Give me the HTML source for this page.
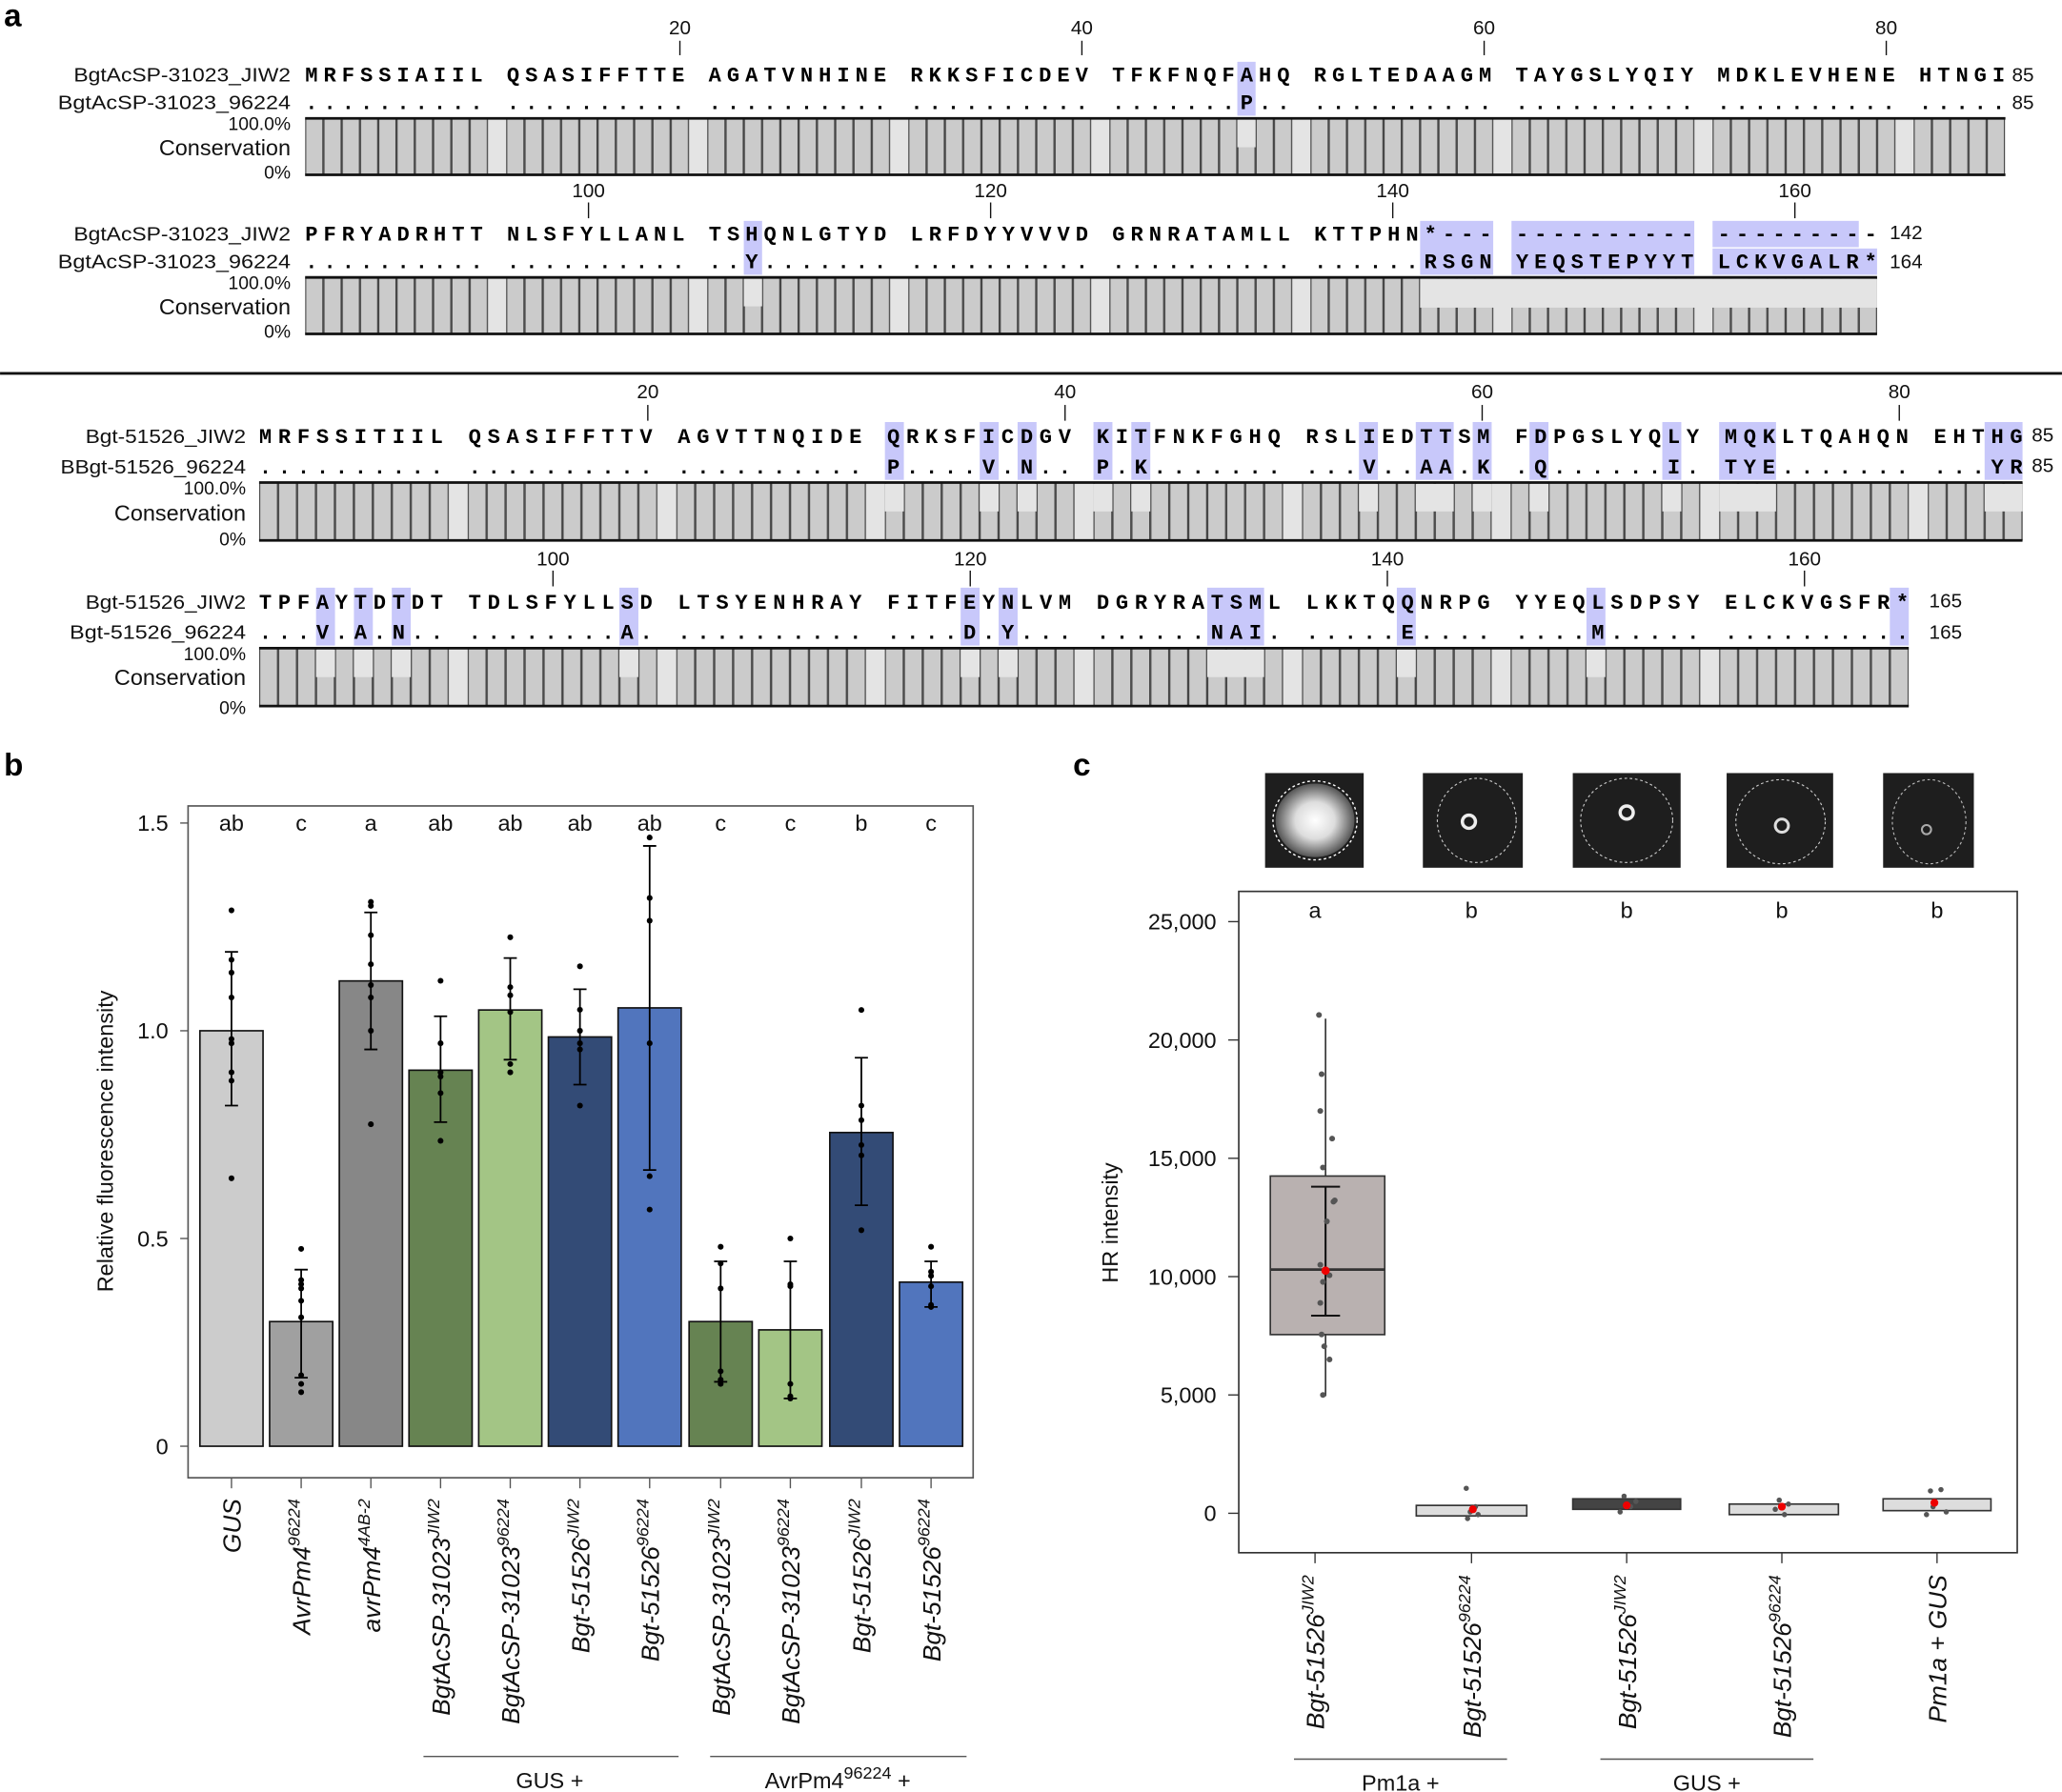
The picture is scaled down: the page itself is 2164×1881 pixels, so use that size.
<!DOCTYPE html>
<html><head><meta charset="utf-8"><style>
html,body{margin:0;padding:0;background:#fff}
svg{display:block}
.seq{font-family:"Liberation Mono",monospace;font-weight:bold;font-size:16px;fill:#000}
.lab{font-family:"Liberation Sans",sans-serif;font-size:15px;fill:#111}
.ax{font-family:"Liberation Sans",sans-serif;font-size:17px;fill:#111}
.it{font-family:"Liberation Sans",sans-serif;font-style:italic;font-size:19px;fill:#111}
.pl{font-family:"Liberation Sans",sans-serif;font-weight:bold;font-size:24px;fill:#000}
</style></head><body>
<svg xmlns="http://www.w3.org/2000/svg" width="2164" height="1881" viewBox="0 0 1568 1363">
<defs>
<pattern id="pA" patternUnits="userSpaceOnUse" x="232" y="0" width="152.9" height="1363">
<rect width="152.9" height="1363" fill="#e4e4e4"/>
<g fill="#cbcbcb" stroke="#444" stroke-width="0.9">
<rect x="0.4" y="-5" width="13.1" height="1400"/><rect x="14.3" y="-5" width="13.1" height="1400"/><rect x="28.2" y="-5" width="13.1" height="1400"/><rect x="42.1" y="-5" width="13.1" height="1400"/><rect x="56" y="-5" width="13.1" height="1400"/><rect x="69.9" y="-5" width="13.1" height="1400"/><rect x="83.8" y="-5" width="13.1" height="1400"/><rect x="97.7" y="-5" width="13.1" height="1400"/><rect x="111.6" y="-5" width="13.1" height="1400"/><rect x="125.5" y="-5" width="13.1" height="1400"/>
</g></pattern>
<pattern id="pB" patternUnits="userSpaceOnUse" x="197" y="0" width="158.62" height="1363">
<rect width="158.62" height="1363" fill="#e4e4e4"/>
<g fill="#cbcbcb" stroke="#444" stroke-width="0.9">
<rect x="0.4" y="-5" width="13.6" height="1400"/><rect x="14.82" y="-5" width="13.6" height="1400"/><rect x="29.24" y="-5" width="13.6" height="1400"/><rect x="43.66" y="-5" width="13.6" height="1400"/><rect x="58.08" y="-5" width="13.6" height="1400"/><rect x="72.5" y="-5" width="13.6" height="1400"/><rect x="86.92" y="-5" width="13.6" height="1400"/><rect x="101.34" y="-5" width="13.6" height="1400"/><rect x="115.76" y="-5" width="13.6" height="1400"/><rect x="130.18" y="-5" width="13.6" height="1400"/>
</g></pattern>
<radialGradient id="blob" cx="0.5" cy="0.5" r="0.5"><stop offset="0" stop-color="#fff"/><stop offset="0.5" stop-color="#ddd"/><stop offset="1" stop-color="#555"/></radialGradient>
</defs>

<text class="pl" x="3" y="20">a</text>
<text class="pl" x="3" y="590">b</text>
<text class="pl" x="816" y="590">c</text>

<!-- ===== Alignment 1 ===== -->
<g class="lab" text-anchor="middle">
<text x="517" y="26">20</text><text x="822.7" y="26">40</text><text x="1128.6" y="26">60</text><text x="1434.4" y="26">80</text>
<text x="447.5" y="150">100</text><text x="753.3" y="150">120</text><text x="1059.1" y="150">140</text><text x="1364.9" y="150">160</text>
</g>
<g stroke="#111" stroke-width="1">
<line x1="517" y1="31" x2="517" y2="42"/><line x1="822.7" y1="31" x2="822.7" y2="42"/><line x1="1128.6" y1="31" x2="1128.6" y2="42"/><line x1="1434.4" y1="31" x2="1434.4" y2="42"/>
<line x1="447.5" y1="154" x2="447.5" y2="166"/><line x1="753.3" y1="154" x2="753.3" y2="166"/><line x1="1059.1" y1="154" x2="1059.1" y2="166"/><line x1="1364.9" y1="154" x2="1364.9" y2="166"/>
</g>
<g fill="#c8c8fa">
<rect x="940.9" y="47" width="13.9" height="41"/>
<rect x="565.6" y="168" width="13.9" height="41"/>
<rect x="1079.9" y="168" width="55.6" height="41"/>
<rect x="1149.4" y="168" width="139" height="41"/>
<rect x="1302.3" y="168" width="111.2" height="20"/>
<rect x="1302.3" y="189" width="125.1" height="20"/>
</g>
<g class="lab" text-anchor="end">
<text x="221" y="62" textLength="165" lengthAdjust="spacingAndGlyphs">BgtAcSP-31023_JIW2</text>
<text x="221" y="83" textLength="177" lengthAdjust="spacingAndGlyphs">BgtAcSP-31023_96224</text>
<text x="221" y="99" font-size="14">100.0%</text>
<text x="221" y="118" font-size="17">Conservation</text>
<text x="221" y="136" font-size="14">0%</text>
<text x="221" y="183" textLength="165" lengthAdjust="spacingAndGlyphs">BgtAcSP-31023_JIW2</text>
<text x="221" y="204" textLength="177" lengthAdjust="spacingAndGlyphs">BgtAcSP-31023_96224</text>
<text x="221" y="220" font-size="14">100.0%</text>
<text x="221" y="239" font-size="17">Conservation</text>
<text x="221" y="257" font-size="14">0%</text>
</g>
<text class="seq" x="232" y="62" textLength="1292.7" lengthAdjust="spacing">MRFSSIAIIL QSASIFFTTE AGATVNHINE RKKSFICDEV TFKFNQFAHQ RGLTEDAAGM TAYGSLYQIY MDKLEVHENE HTNGI</text>
<text class="seq" x="232" y="83" textLength="1292.7" lengthAdjust="spacing">.......... .......... .......... .......... .......P.. .......... .......... .......... .....</text>
<text class="seq" x="232" y="183" textLength="1195.4" lengthAdjust="spacing">PFRYADRHTT NLSFYLLANL TSHQNLGTYD LRFDYYVVVD GRNRATAMLL KTTPHN*--- ---------- ---------</text>
<text class="seq" x="232" y="204" textLength="1195.4" lengthAdjust="spacing">.......... .......... ..Y....... .......... .......... ......RSGN YEQSTEPYYT LCKVGALR*</text>
<g class="lab"><text x="1530" y="62">85</text><text x="1530" y="83">85</text><text x="1437" y="182">142</text><text x="1437" y="204">164</text></g>

<rect x="232" y="90" width="1292.7" height="43" fill="url(#pA)"/>
<rect x="232" y="211" width="1195.4" height="43" fill="url(#pA)"/>
<g fill="#e4e4e4">
<rect x="940.9" y="91" width="13.9" height="21"/>
<rect x="565.6" y="212" width="13.9" height="21"/>
<rect x="1079.9" y="212" width="347.5" height="22"/>
</g>
<g stroke="#111" stroke-width="2">
<line x1="232" y1="90" x2="1525" y2="90"/><line x1="232" y1="133" x2="1525" y2="133"/>
<line x1="232" y1="211" x2="1427.4" y2="211"/><line x1="232" y1="254" x2="1427.4" y2="254"/>
</g>

<line x1="0" y1="284" x2="1568" y2="284" stroke="#111" stroke-width="2"/>

<!-- ===== Alignment 2 ===== -->
<g class="lab" text-anchor="middle">
<text x="492.6" y="303">20</text><text x="809.9" y="303">40</text><text x="1127.1" y="303">60</text><text x="1444.3" y="303">80</text>
<text x="420.5" y="430">100</text><text x="737.8" y="430">120</text><text x="1055" y="430">140</text><text x="1372.2" y="430">160</text>
</g>
<g stroke="#111" stroke-width="1">
<line x1="492.6" y1="308" x2="492.6" y2="320"/><line x1="809.9" y1="308" x2="809.9" y2="320"/><line x1="1127.1" y1="308" x2="1127.1" y2="320"/><line x1="1444.3" y1="308" x2="1444.3" y2="320"/>
<line x1="420.5" y1="434" x2="420.5" y2="446"/><line x1="737.8" y1="434" x2="737.8" y2="446"/><line x1="1055" y1="434" x2="1055" y2="446"/><line x1="1372.2" y1="434" x2="1372.2" y2="446"/>
</g>
<g fill="#c8c8fa">
<rect x="672.9" y="321" width="14.42" height="44"/><rect x="745" y="321" width="14.42" height="44"/><rect x="773.8" y="321" width="14.42" height="44"/>
<rect x="831.5" y="321" width="14.42" height="44"/><rect x="860.3" y="321" width="14.42" height="44"/><rect x="1033.4" y="321" width="14.42" height="44"/>
<rect x="1076.6" y="321" width="28.84" height="44"/><rect x="1119.9" y="321" width="14.42" height="44"/><rect x="1163.1" y="321" width="14.42" height="44"/>
<rect x="1264.1" y="321" width="14.42" height="44"/><rect x="1307.3" y="321" width="43.26" height="44"/><rect x="1509.2" y="321" width="28.84" height="44"/>
<rect x="240.3" y="447" width="14.42" height="44"/><rect x="269.1" y="447" width="14.42" height="44"/><rect x="297.9" y="447" width="14.42" height="44"/>
<rect x="471" y="447" width="14.42" height="44"/><rect x="730.5" y="447" width="14.42" height="44"/><rect x="759.4" y="447" width="14.42" height="44"/>
<rect x="918" y="447" width="43.26" height="44"/><rect x="1062.2" y="447" width="14.42" height="44"/><rect x="1206.4" y="447" width="14.42" height="44"/>
<rect x="1437.1" y="447" width="14.42" height="44"/>
</g>
<g class="lab" text-anchor="end">
<text x="187" y="337" textLength="122" lengthAdjust="spacingAndGlyphs">Bgt-51526_JIW2</text>
<text x="187" y="360" textLength="141" lengthAdjust="spacingAndGlyphs">BBgt-51526_96224</text>
<text x="187" y="376" font-size="14">100.0%</text>
<text x="187" y="396" font-size="17">Conservation</text>
<text x="187" y="415" font-size="14">0%</text>
<text x="187" y="463" textLength="122" lengthAdjust="spacingAndGlyphs">Bgt-51526_JIW2</text>
<text x="187" y="486" textLength="134" lengthAdjust="spacingAndGlyphs">Bgt-51526_96224</text>
<text x="187" y="502" font-size="14">100.0%</text>
<text x="187" y="521" font-size="17">Conservation</text>
<text x="187" y="543" font-size="14">0%</text>
</g>
<text class="seq" x="197" y="337" textLength="1341.1" lengthAdjust="spacing">MRFSSITIIL QSASIFFTTV AGVTTNQIDE QRKSFICDGV KITFNKFGHQ RSLIEDTTSM FDPGSLYQLY MQKLTQAHQN EHTHG</text>
<text class="seq" x="197" y="360" textLength="1341.1" lengthAdjust="spacing">.......... .......... .......... P....V.N.. P.K....... ...V..AA.K .Q......I. TYE....... ...YR</text>
<text class="seq" x="197" y="463" textLength="1254.5" lengthAdjust="spacing">TPFAYTDTDT TDLSFYLLSD LTSYENHRAY FITFEYNLVM DGRYRATSML LKKTQQNRPG YYEQLSDPSY ELCKVGSFR*</text>
<text class="seq" x="197" y="486" textLength="1254.5" lengthAdjust="spacing">...V.A.N.. ........A. .......... ....D.Y... ......NAI. .....E.... ....M..... ..........</text>
<g class="lab"><text x="1545" y="336">85</text><text x="1545" y="359">85</text><text x="1467" y="462">165</text><text x="1467" y="486">165</text></g>

<rect x="197" y="367" width="1341.1" height="44" fill="url(#pB)"/>
<rect x="197" y="493" width="1254.5" height="44" fill="url(#pB)"/>
<g fill="#e4e4e4">
<rect x="672.9" y="368" width="14.42" height="21"/><rect x="745" y="368" width="14.42" height="21"/><rect x="773.8" y="368" width="14.42" height="21"/>
<rect x="831.5" y="368" width="14.42" height="21"/><rect x="860.3" y="368" width="14.42" height="21"/><rect x="1033.4" y="368" width="14.42" height="21"/>
<rect x="1076.6" y="368" width="28.84" height="21"/><rect x="1119.9" y="368" width="14.42" height="21"/><rect x="1163.1" y="368" width="14.42" height="21"/>
<rect x="1264.1" y="368" width="14.42" height="21"/><rect x="1307.3" y="368" width="43.26" height="21"/><rect x="1509.2" y="368" width="28.84" height="21"/>
<rect x="240.3" y="494" width="14.42" height="21"/><rect x="269.1" y="494" width="14.42" height="21"/><rect x="297.9" y="494" width="14.42" height="21"/>
<rect x="471" y="494" width="14.42" height="21"/><rect x="730.5" y="494" width="14.42" height="21"/><rect x="759.4" y="494" width="14.42" height="21"/>
<rect x="918" y="494" width="43.26" height="21"/><rect x="1062.2" y="494" width="14.42" height="21"/><rect x="1206.4" y="494" width="14.42" height="21"/>
</g>
<g stroke="#111" stroke-width="2">
<line x1="197" y1="367" x2="1538" y2="367"/><line x1="197" y1="411" x2="1538" y2="411"/>
<line x1="197" y1="493" x2="1451.5" y2="493"/><line x1="197" y1="537" x2="1451.5" y2="537"/>
</g>

<!-- ===== Panel b ===== -->
<rect x="143" y="613" width="597" height="511" fill="none" stroke="#555" stroke-width="1.2"/>
<g stroke="#555" stroke-width="1"><line x1="137" y1="626" x2="143" y2="626"/><line x1="137" y1="784" x2="143" y2="784"/><line x1="137" y1="942" x2="143" y2="942"/><line x1="137" y1="1100" x2="143" y2="1100"/></g>
<g class="ax" text-anchor="end"><text x="128" y="632">1.5</text><text x="128" y="790">1.0</text><text x="128" y="948">0.5</text><text x="128" y="1106">0</text></g>
<text class="ax" font-size="20" transform="translate(86,868) rotate(-90)" text-anchor="middle">Relative fluorescence intensity</text>
<g stroke="#111" stroke-width="1.2">
<rect x="152" y="784" width="48" height="316" fill="#cccccc"/>
<rect x="205" y="1005.2" width="48" height="94.8" fill="#a0a0a0"/>
<rect x="258" y="746.1" width="48" height="353.9" fill="#878787"/>
<rect x="311" y="814" width="48" height="286" fill="#668352"/>
<rect x="364" y="768.2" width="48" height="331.8" fill="#a3c585"/>
<rect x="417" y="788.7" width="48" height="311.3" fill="#334b76"/>
<rect x="470" y="766.6" width="48" height="333.4" fill="#5175bd"/>
<rect x="524" y="1005.2" width="48" height="94.8" fill="#668352"/>
<rect x="577" y="1011.5" width="48" height="88.5" fill="#a3c585"/>
<rect x="631" y="861.4" width="48" height="238.6" fill="#334b76"/>
<rect x="684" y="975.2" width="48" height="124.8" fill="#5175bd"/>
</g>
<g stroke="#000" stroke-width="1.3" fill="none">
<path d="M176 840.9V724M171 840.9h10M171 724h10"/>
<path d="M229 1047.9V965.7M224 1047.9h10M224 965.7h10"/>
<path d="M282 798.2V694M277 798.2h10M277 694h10"/>
<path d="M335 853.5V773M330 853.5h10M330 773h10"/>
<path d="M388 806V728.7M383 806h10M383 728.7h10"/>
<path d="M441 825V752.4M436 825h10M436 752.4h10"/>
<path d="M494 889.9V643.4M489 889.9h10M489 643.4h10"/>
<path d="M548 1051V959.4M543 1051h10M543 959.4h10"/>
<path d="M601 1063.7V959.4M596 1063.7h10M596 959.4h10"/>
<path d="M655 916.7V804.5M650 916.7h10M650 804.5h10"/>
<path d="M708 994.1V959.4M703 994.1h10M703 959.4h10"/>
</g>
<g fill="#000">
<circle cx="176" cy="692.4" r="2.2"/><circle cx="176" cy="730" r="2.2"/><circle cx="176" cy="739.8" r="2.2"/><circle cx="176" cy="758.7" r="2.2"/><circle cx="176" cy="790.3" r="2.2"/><circle cx="176" cy="793.5" r="2.2"/><circle cx="176" cy="815.6" r="2.2"/><circle cx="176" cy="822" r="2.2"/><circle cx="176" cy="896.2" r="2.2"/>
<circle cx="229" cy="949.9" r="2.2"/><circle cx="229" cy="973.6" r="2.2"/><circle cx="229" cy="976.8" r="2.2"/><circle cx="229" cy="980" r="2.2"/><circle cx="229" cy="989.4" r="2.2"/><circle cx="229" cy="1002" r="2.2"/><circle cx="229" cy="1046" r="2.2"/><circle cx="229" cy="1052.6" r="2.2"/><circle cx="229" cy="1058.9" r="2.2"/>
<circle cx="282" cy="686" r="2.2"/><circle cx="282" cy="689" r="2.2"/><circle cx="282" cy="711.3" r="2.2"/><circle cx="282" cy="733.4" r="2.2"/><circle cx="282" cy="749.2" r="2.2"/><circle cx="282" cy="758.7" r="2.2"/><circle cx="282" cy="784" r="2.2"/><circle cx="282" cy="855.1" r="2.2"/>
<circle cx="335" cy="746" r="2.2"/><circle cx="335" cy="793.5" r="2.2"/><circle cx="335" cy="815.6" r="2.2"/><circle cx="335" cy="818.8" r="2.2"/><circle cx="335" cy="831.4" r="2.2"/><circle cx="335" cy="867.7" r="2.2"/>
<circle cx="388" cy="712.9" r="2.2"/><circle cx="388" cy="750.8" r="2.2"/><circle cx="388" cy="757" r="2.2"/><circle cx="388" cy="769.8" r="2.2"/><circle cx="388" cy="809.3" r="2.2"/><circle cx="388" cy="815.6" r="2.2"/>
<circle cx="441" cy="735" r="2.2"/><circle cx="441" cy="768" r="2.2"/><circle cx="441" cy="784" r="2.2"/><circle cx="441" cy="793.5" r="2.2"/><circle cx="441" cy="798.2" r="2.2"/><circle cx="441" cy="840.9" r="2.2"/>
<circle cx="494" cy="637" r="2.2"/><circle cx="494" cy="683" r="2.2"/><circle cx="494" cy="700.3" r="2.2"/><circle cx="494" cy="793.5" r="2.2"/><circle cx="494" cy="894.6" r="2.2"/><circle cx="494" cy="920" r="2.2"/>
<circle cx="548" cy="948.3" r="2.2"/><circle cx="548" cy="961" r="2.2"/><circle cx="548" cy="980" r="2.2"/><circle cx="548" cy="1043" r="2.2"/><circle cx="548" cy="1049.4" r="2.2"/><circle cx="548" cy="1052.6" r="2.2"/>
<circle cx="601" cy="942" r="2.2"/><circle cx="601" cy="976.8" r="2.2"/><circle cx="601" cy="978.3" r="2.2"/><circle cx="601" cy="1052.6" r="2.2"/><circle cx="601" cy="1062" r="2.2"/><circle cx="601" cy="1063.7" r="2.2"/>
<circle cx="655" cy="768.2" r="2.2"/><circle cx="655" cy="840.9" r="2.2"/><circle cx="655" cy="852" r="2.2"/><circle cx="655" cy="870.9" r="2.2"/><circle cx="655" cy="878.8" r="2.2"/><circle cx="655" cy="935.7" r="2.2"/>
<circle cx="708" cy="948.3" r="2.2"/><circle cx="708" cy="967.3" r="2.2"/><circle cx="708" cy="970.4" r="2.2"/><circle cx="708" cy="978.3" r="2.2"/><circle cx="708" cy="992.6" r="2.2"/><circle cx="708" cy="994.1" r="2.2"/>
</g>
<g class="ax" text-anchor="middle" font-size="17">
<text x="176" y="632">ab</text><text x="229" y="632">c</text><text x="282" y="632">a</text><text x="335" y="632">ab</text><text x="388" y="632">ab</text><text x="441" y="632">ab</text><text x="494" y="632">ab</text><text x="548" y="632">c</text><text x="601" y="632">c</text><text x="655" y="632">b</text><text x="708" y="632">c</text>
</g>
<g stroke="#555" stroke-width="1">
<line x1="176" y1="1124" x2="176" y2="1132"/><line x1="229" y1="1124" x2="229" y2="1132"/><line x1="282" y1="1124" x2="282" y2="1132"/><line x1="335" y1="1124" x2="335" y2="1132"/><line x1="388" y1="1124" x2="388" y2="1132"/><line x1="441" y1="1124" x2="441" y2="1132"/><line x1="494" y1="1124" x2="494" y2="1132"/><line x1="548" y1="1124" x2="548" y2="1132"/><line x1="601" y1="1124" x2="601" y2="1132"/><line x1="655" y1="1124" x2="655" y2="1132"/><line x1="708" y1="1124" x2="708" y2="1132"/>
</g>
<g class="it" text-anchor="end">
<text transform="translate(183,1140) rotate(-90)">GUS</text>
<text transform="translate(236,1140) rotate(-90)">AvrPm4<tspan font-size="13" dy="-8">96224</tspan></text>
<text transform="translate(289,1140) rotate(-90)">avrPm4<tspan font-size="13" dy="-8">4AB-2</tspan></text>
<text transform="translate(342,1140) rotate(-90)">BgtAcSP-31023<tspan font-size="13" dy="-8">JIW2</tspan></text>
<text transform="translate(395,1140) rotate(-90)">BgtAcSP-31023<tspan font-size="13" dy="-8">96224</tspan></text>
<text transform="translate(448,1140) rotate(-90)">Bgt-51526<tspan font-size="13" dy="-8">JIW2</tspan></text>
<text transform="translate(501,1140) rotate(-90)">Bgt-51526<tspan font-size="13" dy="-8">96224</tspan></text>
<text transform="translate(555,1140) rotate(-90)">BgtAcSP-31023<tspan font-size="13" dy="-8">JIW2</tspan></text>
<text transform="translate(608,1140) rotate(-90)">BgtAcSP-31023<tspan font-size="13" dy="-8">96224</tspan></text>
<text transform="translate(662,1140) rotate(-90)">Bgt-51526<tspan font-size="13" dy="-8">JIW2</tspan></text>
<text transform="translate(715,1140) rotate(-90)">Bgt-51526<tspan font-size="13" dy="-8">96224</tspan></text>
</g>
<g stroke="#555" stroke-width="1"><line x1="322" y1="1336" x2="516" y2="1336"/><line x1="540" y1="1336" x2="735" y2="1336"/></g>
<g class="ax" font-size="18" text-anchor="middle"><text x="418" y="1360">GUS +</text><text x="637" y="1360">AvrPm4<tspan font-size="13" dy="-7">96224</tspan><tspan dy="7"> +</tspan></text></g>

<!-- ===== Panel c ===== -->
<g>
<rect x="962" y="588" width="75" height="72" fill="#1e1e1e"/>
<ellipse cx="1000" cy="624" rx="30" ry="28" fill="url(#blob)"/>
<ellipse cx="1000" cy="624" rx="32" ry="30" fill="none" stroke="#fff" stroke-width="1" stroke-dasharray="2,2"/>
<rect x="1082" y="588" width="76" height="72" fill="#1e1e1e"/>
<ellipse cx="1123" cy="624" rx="30" ry="32" fill="none" stroke="#ccc" stroke-width="0.8" stroke-dasharray="2,2"/>
<circle cx="1117" cy="625" r="5" fill="none" stroke="#eee" stroke-width="2.5"/>
<rect x="1196" y="588" width="82" height="72" fill="#1e1e1e"/>
<ellipse cx="1237" cy="624" rx="35" ry="32" fill="none" stroke="#ccc" stroke-width="0.8" stroke-dasharray="2,2"/>
<circle cx="1237" cy="618" r="5" fill="none" stroke="#eee" stroke-width="2.5"/>
<rect x="1313" y="588" width="81" height="72" fill="#1e1e1e"/>
<ellipse cx="1354" cy="625" rx="34" ry="32" fill="none" stroke="#ccc" stroke-width="0.8" stroke-dasharray="2,2"/>
<circle cx="1355" cy="628" r="5" fill="none" stroke="#ddd" stroke-width="2.2"/>
<rect x="1432" y="588" width="69" height="72" fill="#1e1e1e"/>
<ellipse cx="1467" cy="625" rx="28" ry="32" fill="none" stroke="#bbb" stroke-width="0.8" stroke-dasharray="2,2"/>
<circle cx="1465" cy="631" r="3.5" fill="none" stroke="#aaa" stroke-width="1.5"/>
</g>
<rect x="942" y="678" width="592" height="503" fill="none" stroke="#333" stroke-width="1.2"/>
<g stroke="#333" stroke-width="1"><line x1="934" y1="701" x2="942" y2="701"/><line x1="934" y1="791" x2="942" y2="791"/><line x1="934" y1="881" x2="942" y2="881"/><line x1="934" y1="971" x2="942" y2="971"/><line x1="934" y1="1061" x2="942" y2="1061"/><line x1="934" y1="1151" x2="942" y2="1151"/></g>
<g class="ax" text-anchor="end"><text x="925" y="707">25,000</text><text x="925" y="797">20,000</text><text x="925" y="887">15,000</text><text x="925" y="977">10,000</text><text x="925" y="1067">5,000</text><text x="925" y="1157">0</text></g>
<text class="ax" font-size="20" transform="translate(850,930) rotate(-90)" text-anchor="middle">HR intensity</text>
<g class="ax" font-size="17" text-anchor="middle"><text x="1000" y="698">a</text><text x="1119" y="698">b</text><text x="1237" y="698">b</text><text x="1355" y="698">b</text><text x="1473" y="698">b</text></g>
<line x1="1008" y1="774.8" x2="1008" y2="1061.9" stroke="#333" stroke-width="1.2"/>
<rect x="966" y="894.5" width="87" height="120.6" fill="#b9b1b0" stroke="#333" stroke-width="1.2"/>
<line x1="966" y1="965.6" x2="1053" y2="965.6" stroke="#333" stroke-width="2"/>
<path d="M1008 1000.7V902.6M997 1000.7h22M997 902.6h22" stroke="#111" stroke-width="1.5" fill="none"/>
<g fill="#555">
<circle cx="1003" cy="772" r="2.2"/><circle cx="1005" cy="817" r="2.2"/><circle cx="1004" cy="845" r="2.2"/><circle cx="1013" cy="866" r="2.2"/><circle cx="1006" cy="888" r="2.2"/><circle cx="1015" cy="913" r="2.2"/><circle cx="1014" cy="914" r="2.2"/><circle cx="1009" cy="929" r="2.2"/><circle cx="1004" cy="962" r="2.2"/><circle cx="1011" cy="970" r="2.2"/><circle cx="1006" cy="975" r="2.2"/><circle cx="1004" cy="991" r="2.2"/><circle cx="1005" cy="1015" r="2.2"/><circle cx="1007" cy="1024" r="2.2"/><circle cx="1011" cy="1034" r="2.2"/><circle cx="1006" cy="1061" r="2.2"/>
</g>
<circle cx="1008" cy="966.5" r="3.2" fill="#e00"/>
<g stroke="#333" stroke-width="1.2">
<rect x="1077" y="1145" width="84" height="8" fill="#ddd"/>
<rect x="1196" y="1140" width="82" height="8" fill="#444"/>
<rect x="1315" y="1144" width="83" height="8" fill="#ddd"/>
<rect x="1432" y="1140" width="82" height="9" fill="#ddd"/>
</g>
<g fill="#555">
<circle cx="1115" cy="1132" r="2"/><circle cx="1118" cy="1150" r="2"/><circle cx="1122" cy="1146" r="2"/><circle cx="1116" cy="1155" r="2"/><circle cx="1124" cy="1152" r="2"/>
<circle cx="1235" cy="1138" r="2"/><circle cx="1240" cy="1146" r="2"/><circle cx="1232" cy="1150" r="2"/><circle cx="1244" cy="1142" r="2"/>
<circle cx="1353" cy="1141" r="2"/><circle cx="1357" cy="1152" r="2"/><circle cx="1350" cy="1148" r="2"/><circle cx="1360" cy="1144" r="2"/>
<circle cx="1468" cy="1134" r="2"/><circle cx="1476" cy="1133" r="2"/><circle cx="1470" cy="1146" r="2"/><circle cx="1465" cy="1152" r="2"/><circle cx="1480" cy="1150" r="2"/>
</g>
<g fill="#e00"><circle cx="1120" cy="1148" r="3"/><circle cx="1237" cy="1145" r="3"/><circle cx="1355" cy="1146" r="3"/><circle cx="1471" cy="1143" r="3"/></g>
<g stroke="#333" stroke-width="1"><line x1="1000" y1="1181" x2="1000" y2="1189"/><line x1="1119" y1="1181" x2="1119" y2="1189"/><line x1="1237" y1="1181" x2="1237" y2="1189"/><line x1="1355" y1="1181" x2="1355" y2="1189"/><line x1="1473" y1="1181" x2="1473" y2="1189"/></g>
<g class="it" text-anchor="end">
<text transform="translate(1007,1198) rotate(-90)">Bgt-51526<tspan font-size="13" dy="-8">JIW2</tspan></text>
<text transform="translate(1126,1198) rotate(-90)">Bgt-51526<tspan font-size="13" dy="-8">96224</tspan></text>
<text transform="translate(1244,1198) rotate(-90)">Bgt-51526<tspan font-size="13" dy="-8">JIW2</tspan></text>
<text transform="translate(1362,1198) rotate(-90)">Bgt-51526<tspan font-size="13" dy="-8">96224</tspan></text>
<text transform="translate(1480,1198) rotate(-90)">Pm1a + GUS</text>
</g>
<g stroke="#555" stroke-width="1"><line x1="984" y1="1338" x2="1146" y2="1338"/><line x1="1217" y1="1338" x2="1379" y2="1338"/></g>
<g class="ax" font-size="18" text-anchor="middle"><text x="1065" y="1362">Pm1a +</text><text x="1298" y="1362">GUS +</text></g>
</svg>
</body></html>
